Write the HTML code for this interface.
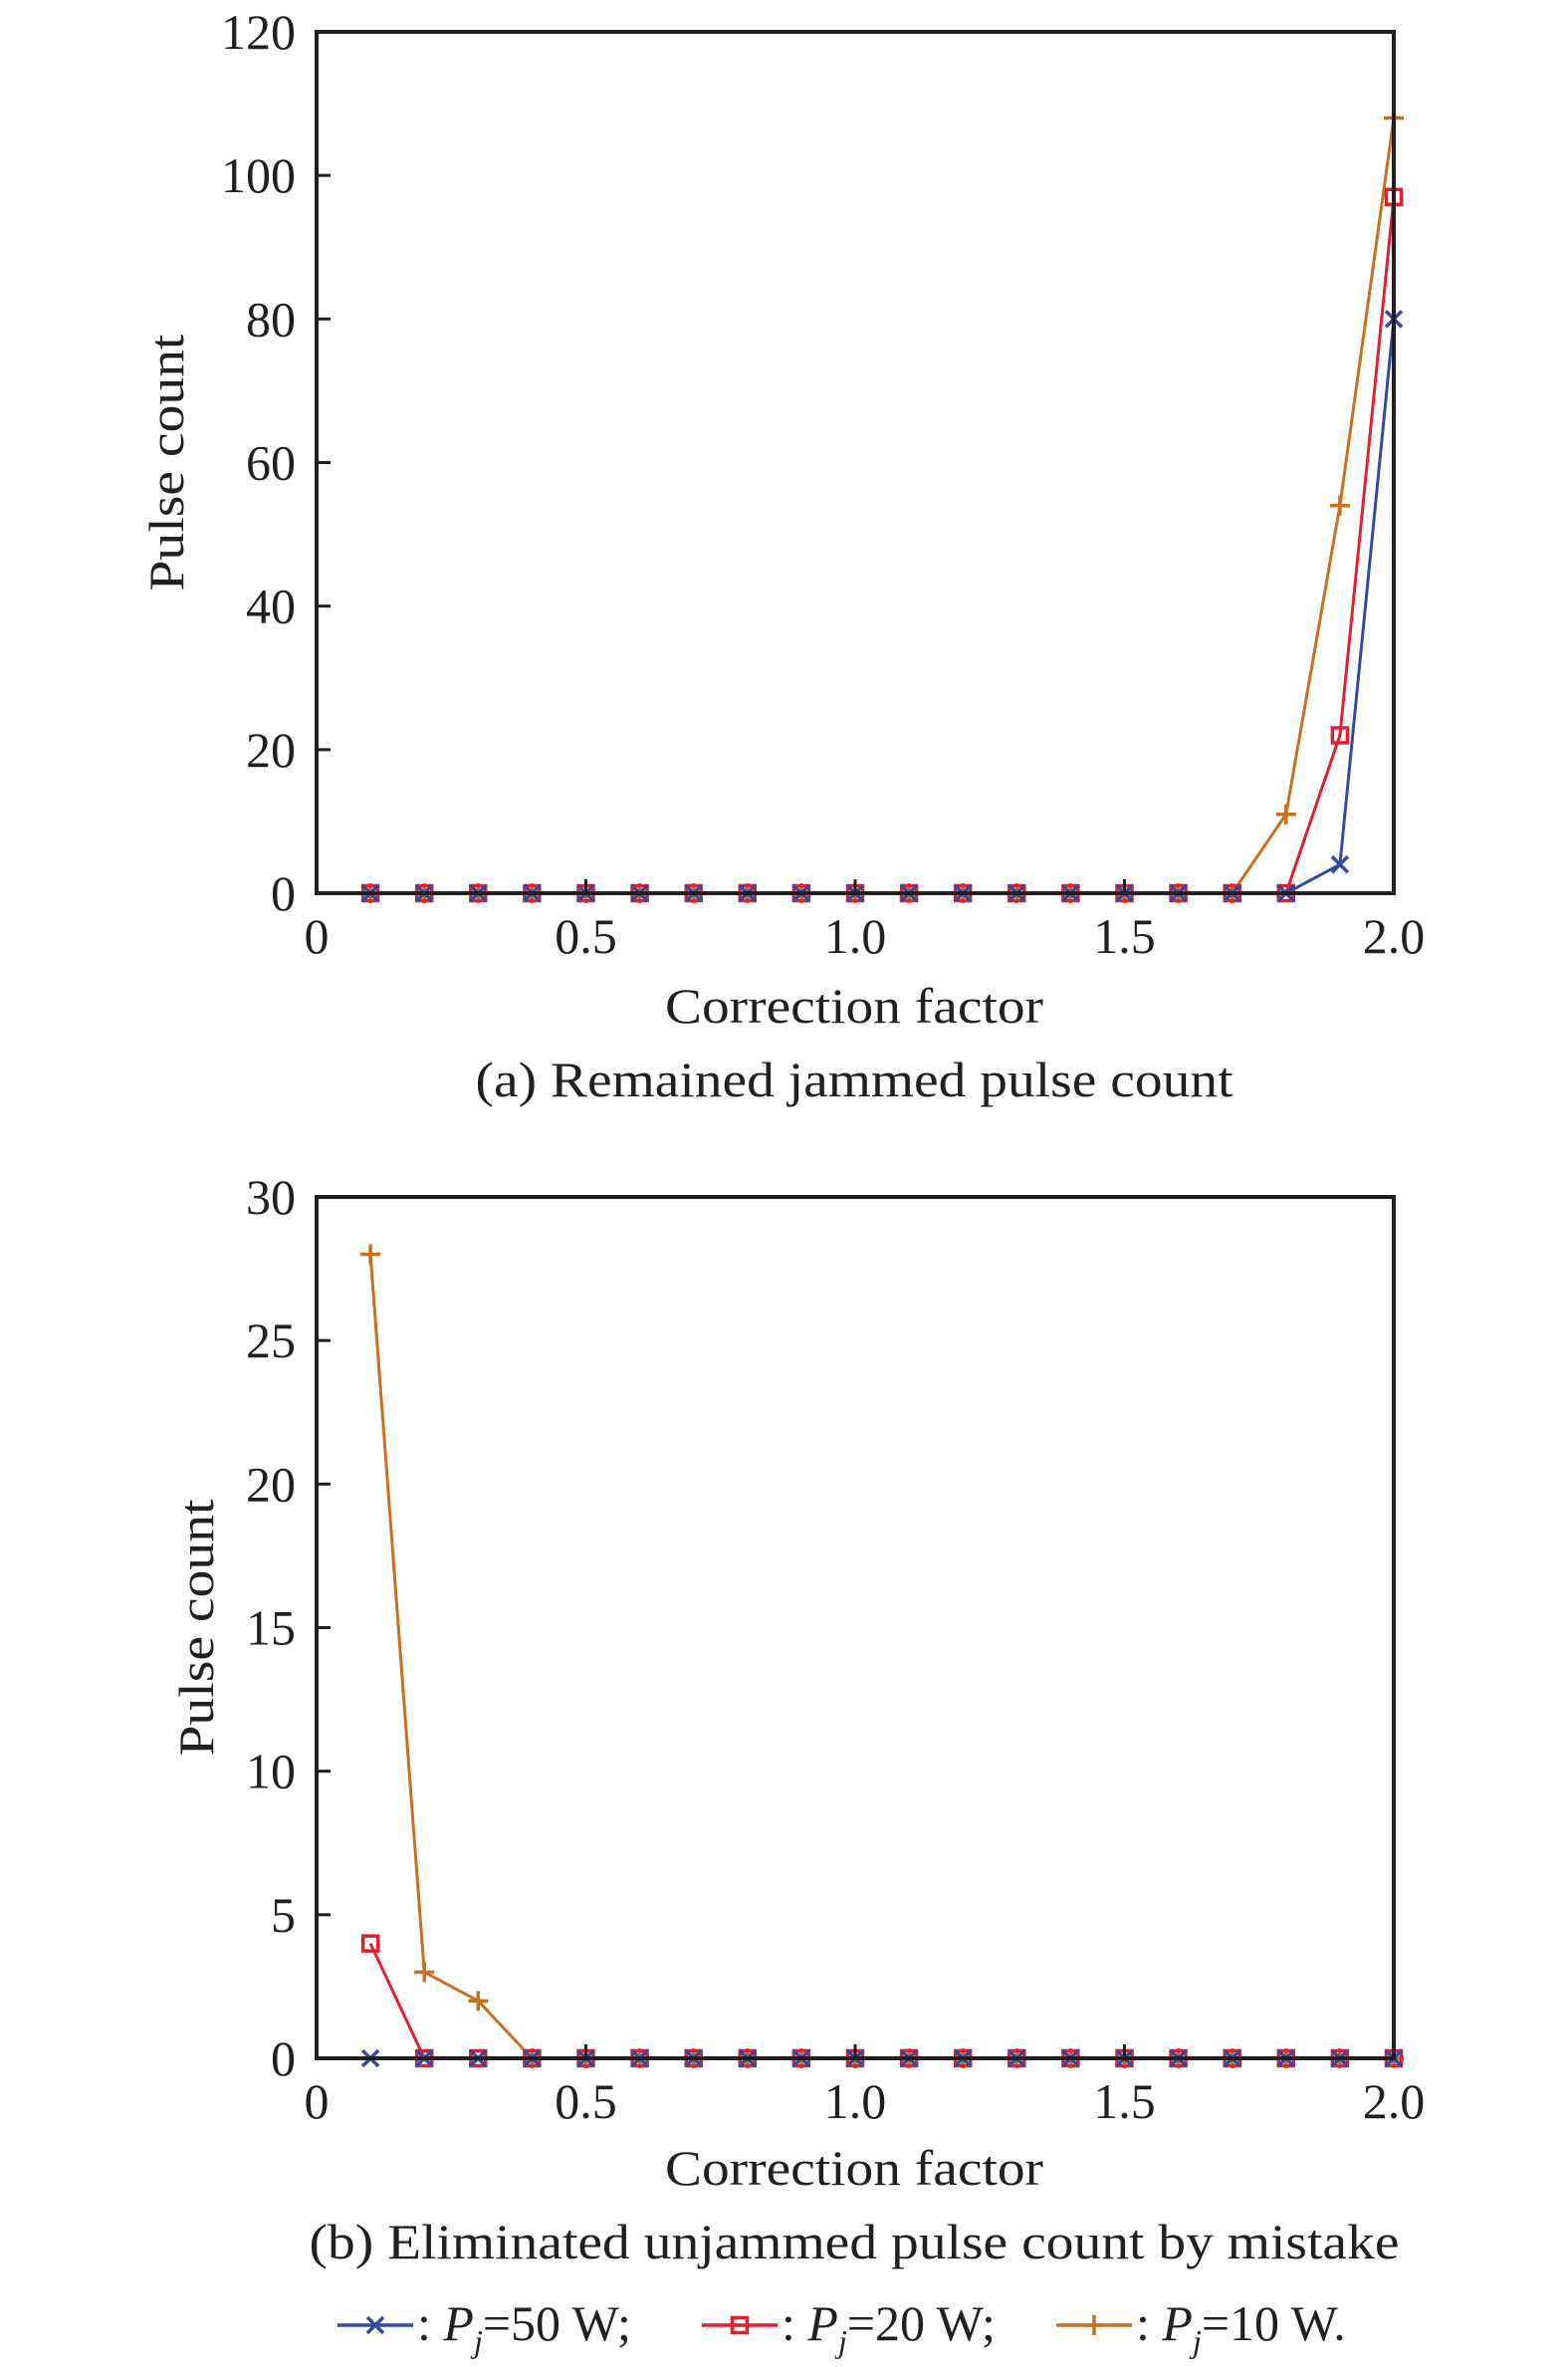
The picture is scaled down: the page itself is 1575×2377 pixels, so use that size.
<!DOCTYPE html>
<html><head><meta charset="utf-8"><style>
html,body{margin:0;padding:0;background:#fff}
svg{display:block}
text{font-family:"Liberation Serif",serif;fill:#231f20}
</style></head><body>
<svg id="svg" width="1575" height="2377" viewBox="0 0 1575 2377" xmlns="http://www.w3.org/2000/svg"></svg>
<script>
const xValues=[0.1,0.2,0.3,0.4,0.5,0.6,0.7,0.8,0.9,1.0,1.1,1.2,1.3,1.4,1.5,1.6,1.7,1.8,1.9,2.0];
const xTicks=[0,0.5,1.0,1.5,2.0];
const xTickLabels=["0","0.5","1.0","1.5","2.0"];
const aYTicks=[0,20,40,60,80,100,120];
const bYTicks=[0,5,10,15,20,25,30];
const aBlue=[0,0,0,0,0,0,0,0,0,0,0,0,0,0,0,0,0,0,4,80];
const aRed=[0,0,0,0,0,0,0,0,0,0,0,0,0,0,0,0,0,0,22,97];
const aOrange=[0,0,0,0,0,0,0,0,0,0,0,0,0,0,0,0,0,11,54,108];
const bBlue=[0,0,0,0,0,0,0,0,0,0,0,0,0,0,0,0,0,0,0,0];
const bRed=[4,0,0,0,0,0,0,0,0,0,0,0,0,0,0,0,0,0,0,0];
const bOrange=[28,3,2,0,0,0,0,0,0,0,0,0,0,0,0,0,0,0,0,0];

const NS="http://www.w3.org/2000/svg";
const svg=document.getElementById('svg');
function mk(tag,attrs,parent){const e=document.createElementNS(NS,tag);for(const k in attrs)e.setAttribute(k,attrs[k]);(parent||svg).appendChild(e);return e;}
const BLUE="#2e4da0",RED="#e31e2d",ORANGE="#c9701f",INK="#231f20";

function marker(g,type,x,y,color){
  if(type==='x'){const s=8;
    mk('path',{d:`M${x-s},${y-s}L${x+s},${y+s}M${x-s},${y+s}L${x+s},${y-s}`,stroke:color,'stroke-width':3.5,fill:'none'},g);}
  else if(type==='sq'){const s=7.5;
    mk('rect',{x:x-s,y:y-s,width:2*s,height:2*s,stroke:color,'stroke-width':3.5,fill:'none'},g);}
  else {const s=10;
    mk('path',{d:`M${x-s},${y}L${x+s},${y}M${x},${y-s}L${x},${y+s}`,stroke:color,'stroke-width':3.5,fill:'none'},g);}
}

function chart(id,top,bottom,yMax,yTicks,series,yTitleX,xTitleY,caption,captionW){
  const L=318,R=1400;
  const g=mk('g',{});
  
  
  const xs=v=>L+(v/2)*(R-L);
  const ys=v=>bottom-(v/yMax)*(bottom-top);
  // series
  series.forEach(s=>{
    const sg=mk('g',{},g);
    
    
    const d=s.vals.map((v,i)=>(i?'L':'M')+xs(xValues[i])+','+ys(v)).join('');
    mk('path',{d:d,stroke:s.color,'stroke-width':3,fill:'none'},sg);
    s.vals.forEach((v,i)=>marker(sg,s.m,xs(xValues[i]),ys(v),s.color));
  });
  // frame
  const fr=mk('rect',{x:L,y:top,width:R-L,height:bottom-top,fill:'none',stroke:INK,'stroke-width':4},g);
  
  
  // y ticks
  yTicks.forEach(t=>{
    const y=ys(t);
    mk('line',{x1:L,x2:L+14,y1:y,y2:y,stroke:INK,'stroke-width':3},g);
    const tx=mk('text',{x:297,y:y+17,'font-size':50,'text-anchor':'end'},g);
    tx.textContent=String(t);
    
    
  });
  xTicks.forEach((t,i)=>{
    const x=xs(t);
    mk('line',{x1:x,x2:x,y1:bottom,y2:bottom-14,stroke:INK,'stroke-width':3},g);
    const tx=mk('text',{x:x,y:bottom+60,'font-size':50,'text-anchor':'middle'},g);
    tx.textContent=xTickLabels[i];
    
    
  });
  const xt=mk('text',{x:858,y:xTitleY,'font-size':50,'text-anchor':'middle',textLength:380,lengthAdjust:'spacingAndGlyphs'},g);
  xt.textContent='Correction factor';
  
  
  const cy=(top+bottom)/2;
  const yt=mk('text',{x:0,y:0,'font-size':50,'text-anchor':'middle',textLength:258,lengthAdjust:'spacingAndGlyphs',transform:`translate(${yTitleX},${cy}) rotate(-90)`},g);
  yt.textContent='Pulse count';
  
  
  const cp=mk('text',{x:858,y:xTitleY+74,'font-size':50,'text-anchor':'middle',textLength:captionW,lengthAdjust:'spacingAndGlyphs'},g);
  cp.textContent=caption;
  
  
}

chart('chart-a-remained-jammed',32,897,120,aYTicks,[
  {name:'series-10w',vals:aOrange,color:ORANGE,m:'+'},
  {name:'series-20w',vals:aRed,color:RED,m:'sq'},
  {name:'series-50w',vals:aBlue,color:BLUE,m:'x'}
],184,1027,'(a) Remained jammed pulse count',761);

chart('chart-b-eliminated-unjammed',1202,2067,30,bYTicks,[
  {name:'series-10w',vals:bOrange,color:ORANGE,m:'+'},
  {name:'series-20w',vals:bRed,color:RED,m:'sq'},
  {name:'series-50w',vals:bBlue,color:BLUE,m:'x'}
],214,2194,'(b) Eliminated unjammed pulse count by mistake',1095);

// legend
const lg=mk('g',{});


const legendItems=[[339,BLUE,'x','50 W;'],[705,RED,'sq','20 W;'],[1061,ORANGE,'+','10 W.']];
legendItems.forEach(it=>{
  const eg=mk('g',{},lg);
  
  
  const x=it[0],y=2335;
  mk('line',{x1:x,x2:x+76,y1:y,y2:y,stroke:it[1],'stroke-width':3.5},eg);
  marker(eg,it[2],x+38,y,it[1]);
  const t=mk('text',{x:x+80,y:2350,'font-size':50},eg);
  t.innerHTML=': <tspan font-style="italic">P</tspan><tspan font-style="italic" font-size="32" dy="12">j</tspan><tspan dy="-12">='+it[3]+'</tspan>';
});
</script>
</body></html>
